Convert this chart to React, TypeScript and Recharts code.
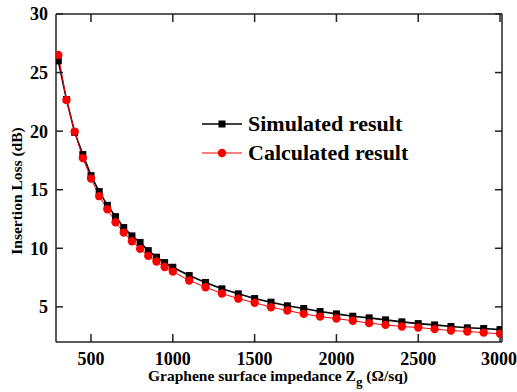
import { LineChart, Line, XAxis, YAxis } from "recharts";

const impedance = [
  300, 350, 400, 450, 500, 550, 600, 650, 700, 750, 800, 850, 900, 950, 1000,
  1100, 1200, 1300, 1400, 1500, 1600, 1700, 1800, 1900, 2000, 2100, 2200, 2300,
  2400, 2500, 2600, 2700, 2800, 2900, 3000,
];
const simulated = [
  26.0, 22.7, 19.9, 18.0, 16.2, 14.84, 13.67, 12.7, 11.77, 11.06, 10.5, 9.8, 9.24, 8.78, 8.38,
  7.67, 7.08, 6.54, 6.11, 5.71, 5.4, 5.09, 4.86, 4.6, 4.4, 4.2, 4.06, 3.89, 3.72, 3.57,
  3.46, 3.32, 3.21, 3.15, 3.06,
];
const calculated = [
  26.5, 22.66, 19.96, 17.7, 15.95, 14.45, 13.33, 12.22, 11.34, 10.6, 9.95, 9.35, 8.87, 8.4, 8.01,
  7.25, 6.68, 6.14, 5.7, 5.35, 4.97, 4.69, 4.4, 4.17, 4.0, 3.81, 3.61, 3.46, 3.32, 3.24,
  3.1, 2.98, 2.9, 2.8, 2.7,
];
const xTicks = [500, 1000, 1500, 2000, 2500, 3000];
const yTicks = [5, 10, 15, 20, 25, 30];
const seriesNames = ["Simulated result", "Calculated result"];

const data = impedance.map((z, i) => ({ z, sim: simulated[i], calc: calculated[i] }));

const FONT = '"Liberation Serif", "Times New Roman", serif';
const AXIS = "#222";

const Square = (props: any) => {
  const { cx, cy, index } = props;
  return <rect key={`sq-${index}`} x={cx - 3.5} y={cy - 3.5} width={7} height={7} fill="#000" />;
};

const Dot = (props: any) => {
  const { cx, cy, index } = props;
  return <circle key={`ci-${index}`} cx={cx} cy={cy} r={4.2} fill="#ff0000" />;
};

// legend and axis titles drawn on top of the chart
function Overlay() {
  const rows = [
    { name: seriesNames[0], color: "#000", square: true },
    { name: seriesNames[1], color: "#ff0000", square: false },
  ];
  return (
    <svg width={517} height={392} style={{ position: "absolute", left: 0, top: 0, pointerEvents: "none" }}>
      {rows.map((r, i) => {
        const y = 124 + i * 29;
        return (
          <g key={r.name}>
            <line x1={202} x2={242} y1={y} y2={y} stroke={r.color} strokeWidth={r.square ? 1.6 : 1} />
            {r.square ? (
              <rect x={218.5} y={y - 3.5} width={7} height={7} fill="#000" />
            ) : (
              <circle cx={222} cy={y} r={4.2} fill="#ff0000" />
            )}
            <text x={248} y={y + 7} fontFamily={FONT} fontWeight="bold" fontSize={22} fill="#000">
              {r.name}
            </text>
          </g>
        );
      })}
      <text x={278} y={381} textAnchor="middle" fontFamily={FONT} fontWeight="bold" fontSize={15.5} fill="#000">
        Graphene surface impedance Z
        <tspan fontSize={13} dy={5}>g</tspan>
        <tspan dy={-5}> (Ω/sq)</tspan>
      </text>
      <text
        x={22}
        y={191}
        transform="rotate(-90 22 191)"
        textAnchor="middle"
        fontFamily={FONT}
        fontWeight="bold"
        fontSize={15.5}
        fill="#000"
      >
        Insertion Loss (dB)
      </text>
    </svg>
  );
}

export default function App() {
  return (
    <div style={{ position: "absolute", left: 0, top: 0, width: 517, height: 392, background: "#fff" }}>
      <LineChart width={517} height={392} data={data} margin={{ top: 13, right: 14, left: 0, bottom: 0 }}>
        <XAxis
          dataKey="z"
          type="number"
          domain={[286, 3012]}
          ticks={xTicks}
          allowDataOverflow
          height={50}
          stroke={AXIS}
          strokeWidth={1.5}
          tickSize={-8}
          tickMargin={18}
          tick={{ fontFamily: FONT, fontWeight: "bold", fontSize: 18, fill: "#000" }}
        />
        <XAxis
          xAxisId="top"
          orientation="top"
          dataKey="z"
          type="number"
          domain={[286, 3012]}
          ticks={xTicks}
          allowDataOverflow
          height={1}
          stroke={AXIS}
          strokeWidth={1.5}
          tickSize={-8}
          tickFormatter={() => ""}
        />
        <YAxis
          type="number"
          domain={[2, 30]}
          ticks={yTicks}
          allowDataOverflow
          width={56}
          stroke={AXIS}
          strokeWidth={1.5}
          tickSize={-7}
          tickMargin={15}
          tick={{ fontFamily: FONT, fontWeight: "bold", fontSize: 18, fill: "#000" }}
        />
        <YAxis
          yAxisId="right"
          orientation="right"
          type="number"
          domain={[2, 30]}
          ticks={yTicks}
          allowDataOverflow
          width={1}
          stroke={AXIS}
          strokeWidth={1.5}
          tickSize={-7}
          tickFormatter={() => ""}
        />
        <Line
          dataKey="sim"
          name={seriesNames[0]}
          stroke="#000"
          strokeWidth={1.6}
          dot={Square}
          activeDot={false}
          isAnimationActive={false}
        />
        <Line
          dataKey="calc"
          name={seriesNames[1]}
          stroke="#ff0000"
          strokeWidth={1}
          dot={Dot}
          activeDot={false}
          isAnimationActive={false}
        />
      </LineChart>
      <Overlay />
    </div>
  );
}
